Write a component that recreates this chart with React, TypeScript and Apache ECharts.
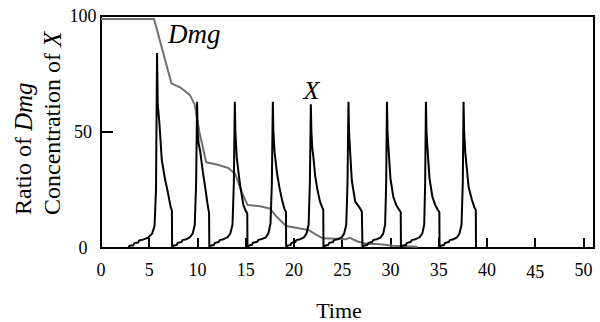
import React, { useEffect, useRef } from "react";
import * as echarts from "echarts";

// Time ticks (x) and ratio/concentration ticks (y)
const xTickValues = [0, 5, 10, 15, 20, 25, 30, 35, 40, 45, 50];
const yTickValues = [0, 50, 100];

// Ratio of Dmg (gray curve): [time, value]
const dmgRatio: [number, number][] = [
  [0, 98.7], [5.5, 98.7], [7.3, 71], [8.3, 69], [9.2, 66], [9.7, 62], [10.2, 50],
  [10.9, 37], [12.0, 36], [13.2, 34.5], [13.9, 32], [14.6, 24], [15.2, 18.5],
  [16.5, 18], [17.5, 17], [18.2, 13.5], [19.2, 9.5], [20.5, 8.5], [21.5, 7.8],
  [22.2, 6], [23.0, 4.2], [24.5, 4.0], [25.4, 3.8], [25.8, 4.4], [26.6, 2.8],
  [27.5, 1.8], [29.0, 1.6], [30.2, 1.0], [32.8, 0.5],
];

// Concentration of X (black spikes): [time, value]
const concX: [number, number][] = [
  [0, 0], [2.85, 0], [2.95, 1.0], [3.35, 1.2], [3.45, 2.1], [3.85, 2.4], [3.95, 3.2], [4.35, 3.6],
  [4.9, 4.5], [5.3, 6.2], [5.55, 9.5], [5.7, 25], [5.81, 84], [5.88, 62], [6.05, 54], [6.3, 38],
  [6.64, 29.5], [6.88, 25], [7.09, 20.5], [7.23, 17.7], [7.35, 16], [7.37, 0],

  [7.47, 1.0], [7.85, 1.3], [7.95, 2.2], [8.35, 2.6], [8.45, 3.4], [8.85, 3.8], [9.2, 4.6],
  [9.5, 6.2], [9.72, 10], [9.86, 28], [9.96, 63], [10.02, 50], [10.12, 45], [10.27, 42],
  [10.55, 33], [10.79, 26.4], [11.03, 19.3], [11.2, 15], [11.23, 0],

  [11.33, 1.0], [11.7, 1.3], [11.8, 2.2], [12.2, 2.6], [12.3, 3.4], [12.7, 3.8], [13.1, 4.6],
  [13.4, 6.2], [13.63, 10], [13.77, 28], [13.87, 63], [13.93, 50], [14.07, 39], [14.3, 31],
  [14.42, 27], [14.76, 18.5], [15.0, 16], [15.16, 15], [15.18, 0],

  [15.28, 1.0], [15.65, 1.4], [15.75, 2.3], [16.2, 2.7], [16.3, 3.5], [16.7, 3.9], [17.1, 4.6],
  [17.35, 6.3], [17.57, 10.5], [17.71, 28], [17.81, 63], [17.87, 50], [18.0, 41], [18.25, 32],
  [18.5, 26], [18.75, 21], [19.0, 17], [19.17, 15.5], [19.19, 0],

  [19.29, 1.0], [19.65, 1.3], [19.75, 2.2], [20.15, 2.6], [20.25, 3.4], [20.65, 3.8], [21.05, 4.6],
  [21.3, 6.2], [21.52, 10], [21.65, 28], [21.75, 62], [21.81, 50], [21.9, 43], [22.02, 39],
  [22.2, 31], [22.44, 25], [22.7, 20], [22.9, 17.8], [23.04, 16.4], [23.06, 0],

  [23.16, 1.0], [23.55, 1.3], [23.65, 2.2], [24.05, 2.6], [24.15, 3.4], [24.55, 3.8], [24.95, 4.6],
  [25.2, 6.2], [25.42, 10], [25.55, 28], [25.65, 63], [25.71, 50], [25.83, 41], [26.0, 29],
  [26.35, 20], [26.87, 17], [27.04, 15.5], [27.1, 0],

  [27.2, 1.0], [27.6, 1.3], [27.7, 2.2], [28.1, 2.6], [28.2, 3.4], [28.6, 3.8], [29.0, 4.6],
  [29.25, 6.2], [29.45, 10], [29.56, 28], [29.64, 63], [29.7, 50], [29.83, 41], [30.0, 30],
  [30.3, 22], [30.6, 18.5], [30.9, 16.5], [31.07, 15.5], [31.09, 0],

  [31.19, 1.0], [31.6, 1.3], [31.7, 2.2], [32.1, 2.6], [32.2, 3.4], [32.6, 3.8], [33.0, 4.6],
  [33.3, 6.2], [33.5, 10], [33.6, 28], [33.68, 63], [33.74, 50], [33.87, 41], [34.05, 30],
  [34.35, 22], [34.65, 18.5], [34.9, 16.5], [35.07, 15.5], [35.09, 0],

  [35.19, 1.0], [35.55, 1.3], [35.65, 2.2], [36.05, 2.6], [36.15, 3.4], [36.55, 3.8], [36.9, 4.6],
  [37.15, 6.2], [37.37, 10], [37.5, 28], [37.58, 63], [37.64, 50], [37.76, 41], [38.1, 26.4],
  [38.45, 20.7], [38.7, 17.5], [38.85, 16.4], [38.87, 0], [39.5, 0],
];

const SERIF = "'Liberation Serif', 'Times New Roman', serif";

export default function App() {
  const ref = useRef<HTMLDivElement>(null);

  useEffect(() => {
    if (!ref.current) return;
    const chart = echarts.init(ref.current, undefined, { renderer: "svg" });
    chart.setOption({
      animation: false,
      backgroundColor: "#fff",
      grid: {
        left: 101,
        right: 6,
        top: 16,
        bottom: 74,
        show: true,
        borderColor: "#000",
        borderWidth: 2,
      },
      xAxis: {
        type: "value",
        min: 0,
        max: 51.1,
        interval: 5,
        axisLine: { show: true, lineStyle: { color: "#000", width: 2 } },
        axisTick: { show: true, inside: true, length: 10, lineStyle: { color: "#000", width: 2 } },
        splitLine: { show: false },
        axisLabel: {
          margin: 13,
          color: "#000",
          fontSize: 18,
          fontFamily: SERIF,
          formatter: (v: number) =>
            xTickValues.indexOf(v) >= 0 ? (v === 45 ? "{l|45}" : String(v)) : "",
          rich: { l: { lineHeight: 21, fontSize: 18, fontFamily: SERIF, color: "#000" } },
        },
      },
      yAxis: {
        type: "value",
        min: 0,
        max: 100,
        interval: 50,
        axisLine: { show: true, lineStyle: { color: "#000", width: 2 } },
        axisTick: { show: true, inside: true, length: 12, lineStyle: { color: "#000", width: 2 } },
        splitLine: { show: false },
        axisLabel: {
          margin: 18,
          align: "center",
          color: "#000",
          fontSize: 18,
          fontFamily: SERIF,
          formatter: (v: number) => (yTickValues.indexOf(v) >= 0 ? String(v) : ""),
        },
      },
      series: [
        {
          name: "Dmg",
          type: "line",
          data: dmgRatio,
          symbol: "none",
          lineStyle: { color: "#707070", width: 2 },
          z: 2,
        },
        {
          name: "X",
          type: "line",
          data: concX,
          symbol: "none",
          lineStyle: { color: "#000", width: 2 },
          z: 3,
        },
      ],
      graphic: [
        {
          type: "text",
          x: 168,
          y: 34,
          style: {
            text: "Dmg",
            font: `italic 27px ${SERIF}`,
            fill: "#000",
            textVerticalAlign: "middle",
            textAlign: "left",
          },
        },
        {
          type: "text",
          x: 311.5,
          y: 90,
          style: {
            text: "X",
            font: `italic 26px ${SERIF}`,
            fill: "#000",
            textVerticalAlign: "middle",
            textAlign: "center",
          },
        },
        {
          type: "text",
          x: 339,
          y: 310,
          style: {
            text: "Time",
            font: `22px ${SERIF}`,
            fill: "#000",
            textVerticalAlign: "middle",
            textAlign: "center",
          },
        },
        {
          type: "text",
          x: 23,
          y: 215,
          rotation: Math.PI / 2,
          style: {
            text: "{a|Ratio of }{b|Dmg}",
            textVerticalAlign: "middle",
            textAlign: "left",
            rich: {
              a: { fontSize: 24, fontFamily: SERIF, fill: "#000", color: "#000" },
              b: { fontSize: 25, fontFamily: SERIF, fontStyle: "italic", fill: "#000", color: "#000" },
            },
          },
        },
        {
          type: "text",
          x: 52,
          y: 215,
          rotation: Math.PI / 2,
          style: {
            text: "{a|Concentration of }{b|X}",
            textVerticalAlign: "middle",
            textAlign: "left",
            rich: {
              a: { fontSize: 24, fontFamily: SERIF, fill: "#000", color: "#000" },
              b: { fontSize: 25, fontFamily: SERIF, fontStyle: "italic", fill: "#000", color: "#000" },
            },
          },
        },
      ],
    });
    return () => chart.dispose();
  }, []);

  return (
    <div
      ref={ref}
      style={{ position: "absolute", left: 0, top: 0, width: 600, height: 322 }}
    />
  );
}
